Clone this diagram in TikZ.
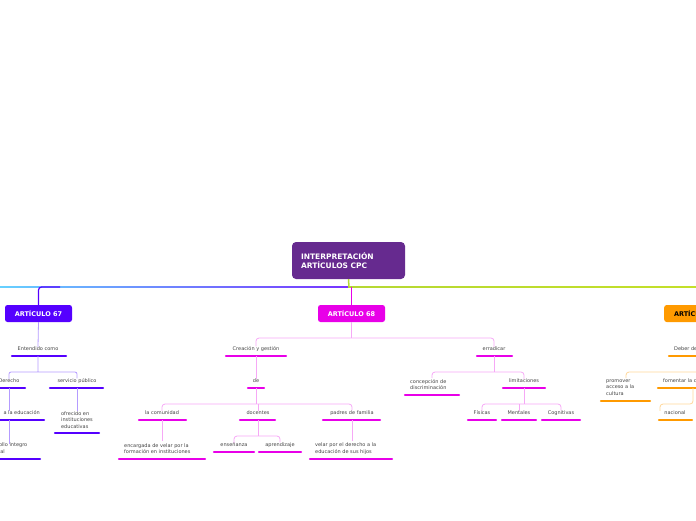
\documentclass[tikz,border=0pt]{standalone}
\usepackage{fontspec}
\setmainfont{DejaVu Sans}
\definecolor{raiz}{HTML}{662A8F}
\definecolor{azul}{HTML}{5500FF}
\definecolor{azulc}{HTML}{B49BFF}
\definecolor{mag}{HTML}{E800E8}
\definecolor{magc}{HTML}{F6A8F6}
\definecolor{nar}{HTML}{FF9A00}
\definecolor{narc}{HTML}{FFD79A}
\definecolor{verde}{HTML}{B5D833}
\definecolor{txt}{HTML}{444444}
\tikzset{
  lbl/.style={inner sep=0pt, text=txt, font=\fontsize{5}{6.5}\selectfont, align=left},
  bar/.style={line width=2.2pt, line cap=round},
  art/.style={rounded corners=2.5pt, minimum height=17pt, text=white, font=\bfseries\fontsize{6.5}{8}\selectfont},
}
\begin{document}
\begin{tikzpicture}[x=1pt,y=-1pt]
\useasboundingbox (0,0) rectangle (696,520);
\clip (0,0) rectangle (696,520);
% raiz
\node[fill=raiz, rounded corners=4pt, minimum width=113pt, minimum height=37pt, text=white, font=\bfseries\fontsize{7.5}{9.5}\selectfont, align=left, text width=95pt] (raiz) at (348.5,260.5) {INTERPRETACIÓN\\ARTÍCULOS CPC};
\shade[left color=blue!30!cyan!60, right color=azul!80] (0,286.2) rectangle (348,287.8);
\shade[left color=verde, right color=verde!80!yellow] (348,286.2) rectangle (696,287.8);
\draw[verde, line width=1.5pt] (raiz.south) -- (349,287);
% articulos
\node[art, fill=azul, minimum width=67pt] (a67) at (38.5,313.5) {ARTÍCULO 67};
\node[art, fill=mag, minimum width=67pt] (a68) at (351.5,313.5) {ARTÍCULO 68};
\node[art, fill=nar, minimum width=67pt, text=black, anchor=west] (a69) at (664,313.5) {ARTÍCULO 69};
\draw[azul, line width=1.2pt, rounded corners=3pt] (a67.north) |- (60,287);
\draw[mag, line width=1.2pt] (a68.north) -- (351.5,287);
% articulo 67
\node[lbl] (ent) at (38,349) {Entendido como};
\draw[bar, azul] (12,356) -- (66,356);
\node[lbl] (der) at (9,381) {Derecho};
\draw[bar, azul] (-10,388) -- (25,388);
\node[lbl] (serv) at (77,381) {servicio público};
\draw[bar, azul] (50,388) -- (103,388);
\node[lbl, anchor=east] (edu) at (40,413) {a la educación};
\draw[bar, azul] (-10,420) -- (44,420);
\node[lbl] (ofr) at (77,420) {ofrecido en\\instituciones\\educativas};
\draw[bar, azul] (55,433) -- (99,433);
\node[lbl, anchor=west] (des) at (-17,448.5) {desarrollo integro\\personal};
\draw[bar, azul] (-10,459) -- (40,459);
\draw[azulc, line width=0.8pt] (a67.south) -- (ent.north);
\draw[azulc, line width=0.8pt, rounded corners=2pt] (38,356) -- (38,372) (der.north) |- (38,372) -| (serv.north);
\draw[azulc, line width=0.8pt] (9,388) -- (edu.north -| 9,0);
\draw[azulc, line width=0.8pt] (77,388) -- (ofr.north);
\draw[azulc, line width=0.8pt] (9,420) -- (9,444);
% articulo 68
\node[lbl] (crea) at (256,349) {Creación y gestión};
\draw[bar, mag] (226,356) -- (286,356);
\node[lbl] (de) at (256,381) {de};
\draw[bar, mag] (248,388) -- (264,388);
\node[lbl] (com) at (162,413) {la comunidad};
\draw[bar, mag] (139,420) -- (186,420);
\node[lbl] (doc) at (258,413) {docentes};
\draw[bar, mag] (240,420) -- (275,420);
\node[lbl] (pad) at (352,413) {padres de familia};
\draw[bar, mag] (323,420) -- (380,420);
\node[lbl, anchor=west] (enc) at (124,448.5) {encargada de velar por la\\formación en instituciones};
\draw[bar, mag] (119,459) -- (205,459);
\node[lbl] (ens) at (234,445) {enseñanza};
\draw[bar, mag] (214,452) -- (254,452);
\node[lbl] (apr) at (280,445) {aprendizaje};
\draw[bar, mag] (259,452) -- (301,452);
\node[lbl, anchor=west] (vel) at (315,448.5) {velar por el derecho a la\\educación de sus hijos};
\draw[bar, mag] (310,459) -- (392,459);
\node[lbl] (err) at (494,349) {erradicar};
\draw[bar, mag] (477,356) -- (512,356);
\node[lbl, anchor=west] (conc) at (410,384.5) {concepción de\\discriminación};
\draw[bar, mag] (405,395) -- (459,395);
\node[lbl] (lim) at (524,381) {limitaciones};
\draw[bar, mag] (503,388) -- (545,388);
\node[lbl] (fis) at (482,413) {Físicas};
\draw[bar, mag] (468,420) -- (496,420);
\node[lbl] (men) at (519,413) {Mentales};
\draw[bar, mag] (502,420) -- (536,420);
\node[lbl] (cog) at (561,413) {Cognitivas};
\draw[bar, mag] (542,420) -- (580,420);
\begin{scope}[magc, line width=0.8pt, rounded corners=3pt]
\draw (a68.south) -- (351.5,338);
\draw (crea.north) |- (351.5,338) -| (err.north);
\draw (256,356) -- (de.north);
\draw (256,388) -- (256,404);
\draw (com.north) |- (256,404) -| (pad.north);
\draw (doc.north) -- (258,404);
\draw (162,420) -- (162,441);
\draw (258,420) -- (258,436);
\draw (ens.north) |- (258,436) -| (apr.north);
\draw (352,420) -- (352,441);
\draw (494,356) -- (494,372);
\draw (432,378) |- (494,372) -| (lim.north);
\draw (524,388) -- (524,404);
\draw (fis.north) |- (524,404) -| (cog.north);
\draw (men.north) -- (519,404);
\end{scope}
% articulo 69
\node[lbl, anchor=west] (deb) at (674,349) {Deber del Estado};
\draw[bar, nar] (669,356) -- (710,356);
\node[lbl, anchor=west] (prom) at (606,387.5) {promover\\acceso a la\\cultura};
\draw[bar, nar] (601,401) -- (650,401);
\node[lbl, anchor=west] (fom) at (663,381) {fomentar la cultura};
\draw[bar, nar] (658,388) -- (710,388);
\node[lbl] (nac) at (675,413) {nacional};
\draw[bar, nar] (659,420) -- (692,420);
\begin{scope}[narc, line width=0.8pt, rounded corners=3pt]
\draw (626,378) |- (700,372);
\draw (693,388) |- (660,404) -- (nac.north -| 660,0);
\end{scope}
\end{tikzpicture}
\end{document}
